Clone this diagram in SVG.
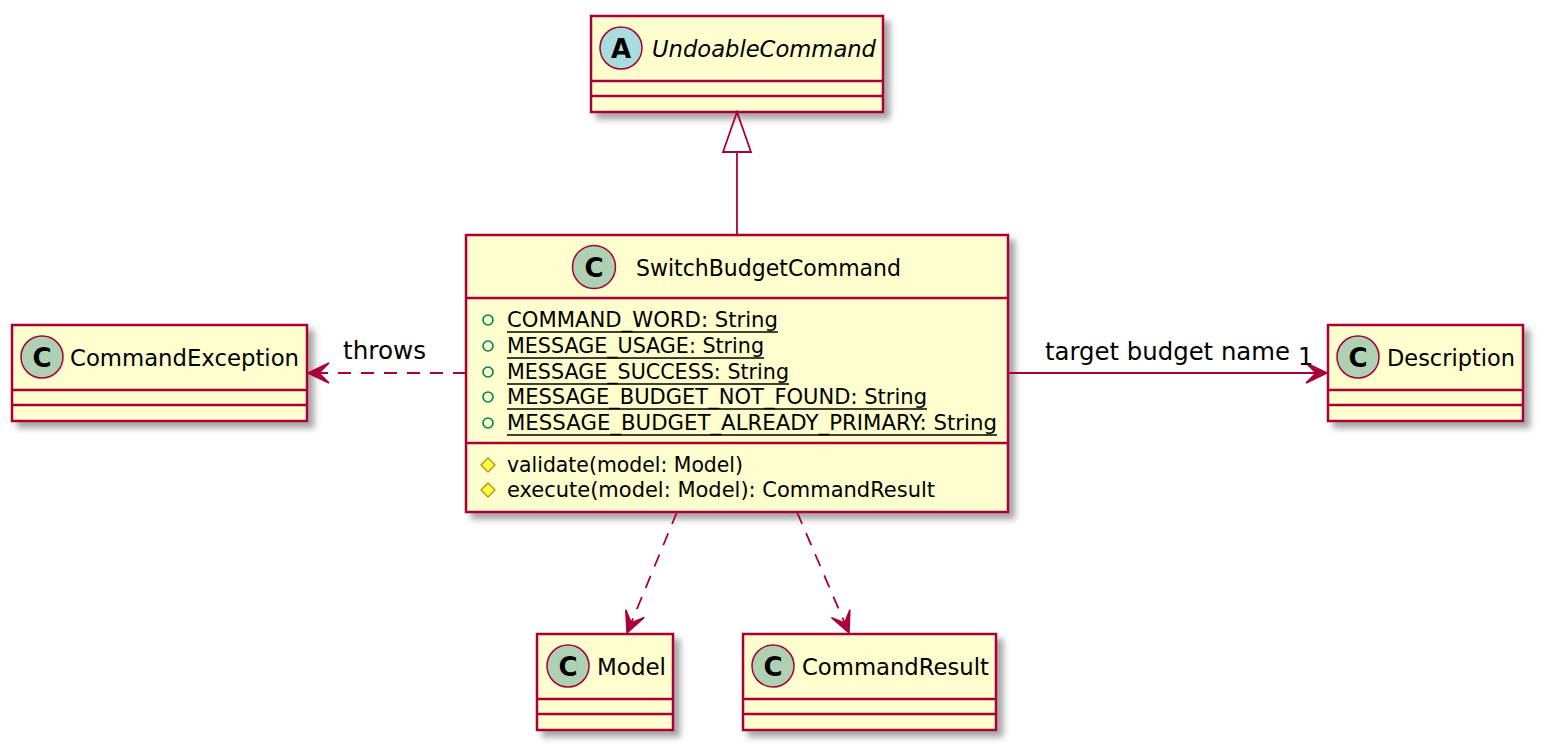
<svg xmlns="http://www.w3.org/2000/svg" width="1542" height="750" viewBox="0 0 1542 750">
<style>
text{font-family:"DejaVu Sans","Noto Sans",sans-serif;fill:#000}
.box{fill:#FEFECE;stroke:#A80036;stroke-width:2.5;filter:url(#sh)}
.sep{stroke:#A80036;stroke-width:2.5}
.cc{fill:#ADD1B2;stroke:#A80036;stroke-width:1.5}
.ca{fill:#A9DCDF;stroke:#A80036;stroke-width:1.5}
.let{font-size:26px;font-weight:bold;text-anchor:middle}
.name{font-size:23.5px}
.mem{font-size:21.5px}
.ul{stroke:#000;stroke-width:1.5}
.pub{fill:none;stroke:#038048;stroke-width:1.6}
.prot{fill:#FFFF44;stroke:#B38D22;stroke-width:1.3}
.edge{fill:none;stroke:#A80036;stroke-width:1.8}
.dash{stroke-dasharray:13 10}
.lbl{font-size:24px}
</style>
<defs>
<filter id="sh" x="-10%" y="-10%" width="130%" height="140%">
<feGaussianBlur in="SourceAlpha" stdDeviation="3"/>
<feOffset dx="6" dy="6" result="b"/>
<feFlood flood-color="#000" flood-opacity="0.35"/>
<feComposite in2="b" operator="in" result="s"/>
<feMerge><feMergeNode in="s"/><feMergeNode in="SourceGraphic"/></feMerge>
</filter>
<marker id="arr" markerUnits="userSpaceOnUse" viewBox="-23 -12 25 24" refX="0" refY="0" markerWidth="25" markerHeight="24" orient="auto">
<path d="M0,0 L-21,-10 L-11,0 L-21,10 Z" fill="#A80036" stroke="#A80036" stroke-width="1.5" stroke-linejoin="miter"/>
</marker>
</defs>

<g id="UndoableCommand">
<rect class="box" x="591" y="16" width="292" height="96"/>
<line class="sep" x1="591" y1="81" x2="883" y2="81"/>
<line class="sep" x1="591" y1="96" x2="883" y2="96"/>
<circle class="ca" cx="621" cy="48" r="21"/>
<text class="let" x="621" y="57.5">A</text>
<text class="name" x="652" y="57" font-style="italic" textLength="224" lengthAdjust="spacingAndGlyphs">UndoableCommand</text>
</g>

<g id="SwitchBudgetCommand">
<rect class="box" x="466" y="235" width="542" height="277"/>
<line class="sep" x1="466" y1="298" x2="1008" y2="298"/>
<line class="sep" x1="466" y1="443" x2="1008" y2="443"/>
<circle class="cc" cx="594" cy="267" r="21.5"/>
<text class="let" x="594" y="276.5">C</text>
<text class="name" x="636" y="276" textLength="265" lengthAdjust="spacingAndGlyphs">SwitchBudgetCommand</text>
<circle class="pub" cx="488" cy="320" r="5"/>
<text class="mem" x="507" y="327" textLength="271" lengthAdjust="spacingAndGlyphs">COMMAND_WORD: String</text>
<line class="ul" x1="507" y1="332" x2="778" y2="332"/>
<circle class="pub" cx="488" cy="346" r="5"/>
<text class="mem" x="507" y="353" textLength="257" lengthAdjust="spacingAndGlyphs">MESSAGE_USAGE: String</text>
<line class="ul" x1="507" y1="358" x2="764" y2="358"/>
<circle class="pub" cx="488" cy="372" r="5"/>
<text class="mem" x="507" y="379" textLength="282" lengthAdjust="spacingAndGlyphs">MESSAGE_SUCCESS: String</text>
<line class="ul" x1="507" y1="384" x2="789" y2="384"/>
<circle class="pub" cx="488" cy="397" r="5"/>
<text class="mem" x="507" y="404" textLength="420" lengthAdjust="spacingAndGlyphs">MESSAGE_BUDGET_NOT_FOUND: String</text>
<line class="ul" x1="507" y1="409" x2="927" y2="409"/>
<circle class="pub" cx="488" cy="423" r="5"/>
<text class="mem" x="507" y="430" textLength="490" lengthAdjust="spacingAndGlyphs">MESSAGE_BUDGET_ALREADY_PRIMARY: String</text>
<line class="ul" x1="507" y1="435" x2="997" y2="435"/>
<polygon class="prot" points="488,458 495,465 488,472 481,465"/>
<text class="mem" x="507" y="472" textLength="236" lengthAdjust="spacingAndGlyphs">validate(model: Model)</text>
<polygon class="prot" points="488,483 495,490 488,497 481,490"/>
<text class="mem" x="507" y="497" textLength="428" lengthAdjust="spacingAndGlyphs">execute(model: Model): CommandResult</text>
</g>

<g id="CommandException">
<rect class="box" x="12" y="325" width="295" height="96"/>
<line class="sep" x1="12" y1="390" x2="307" y2="390"/>
<line class="sep" x1="12" y1="405" x2="307" y2="405"/>
<circle class="cc" cx="42" cy="357" r="21"/>
<text class="let" x="42" y="366.5">C</text>
<text class="name" x="70" y="366" textLength="229" lengthAdjust="spacingAndGlyphs">CommandException</text>
</g>

<g id="Description">
<rect class="box" x="1328" y="325" width="195" height="96"/>
<line class="sep" x1="1328" y1="390" x2="1523" y2="390"/>
<line class="sep" x1="1328" y1="405" x2="1523" y2="405"/>
<circle class="cc" cx="1358" cy="357" r="21"/>
<text class="let" x="1358" y="366.5">C</text>
<text class="name" x="1387" y="366" textLength="128" lengthAdjust="spacingAndGlyphs">Description</text>
</g>

<g id="Model">
<rect class="box" x="537" y="634" width="136" height="96"/>
<line class="sep" x1="537" y1="699" x2="673" y2="699"/>
<line class="sep" x1="537" y1="714" x2="673" y2="714"/>
<circle class="cc" cx="568" cy="666" r="21"/>
<text class="let" x="568" y="675.5">C</text>
<text class="name" x="597" y="675" textLength="69" lengthAdjust="spacingAndGlyphs">Model</text>
</g>

<g id="CommandResult">
<rect class="box" x="743" y="634" width="253" height="96"/>
<line class="sep" x1="743" y1="699" x2="996" y2="699"/>
<line class="sep" x1="743" y1="714" x2="996" y2="714"/>
<circle class="cc" cx="773" cy="666" r="21"/>
<text class="let" x="773" y="675.5">C</text>
<text class="name" x="802" y="675" textLength="187" lengthAdjust="spacingAndGlyphs">CommandResult</text>
</g>

<g id="connectors">
<line class="edge" x1="737" y1="235" x2="737" y2="152"/>
<polygon points="737,112 723,152 751,152" fill="none" stroke="#A80036" stroke-width="1.8"/>
<line class="edge dash" x1="466" y1="373" x2="308" y2="373" marker-end="url(#arr)"/>
<text class="lbl" x="343" y="359" textLength="83" lengthAdjust="spacingAndGlyphs">throws</text>
<line class="edge" x1="1008" y1="373" x2="1327" y2="373" marker-end="url(#arr)"/>
<text class="lbl" x="1045" y="360" textLength="245" lengthAdjust="spacingAndGlyphs">target budget name</text>
<text class="lbl" x="1298" y="365">1</text>
<line class="edge dash" x1="677" y1="512" x2="627" y2="633" marker-end="url(#arr)"/>
<line class="edge dash" x1="797" y1="512" x2="849" y2="633" marker-end="url(#arr)"/>
</g>
</svg>
